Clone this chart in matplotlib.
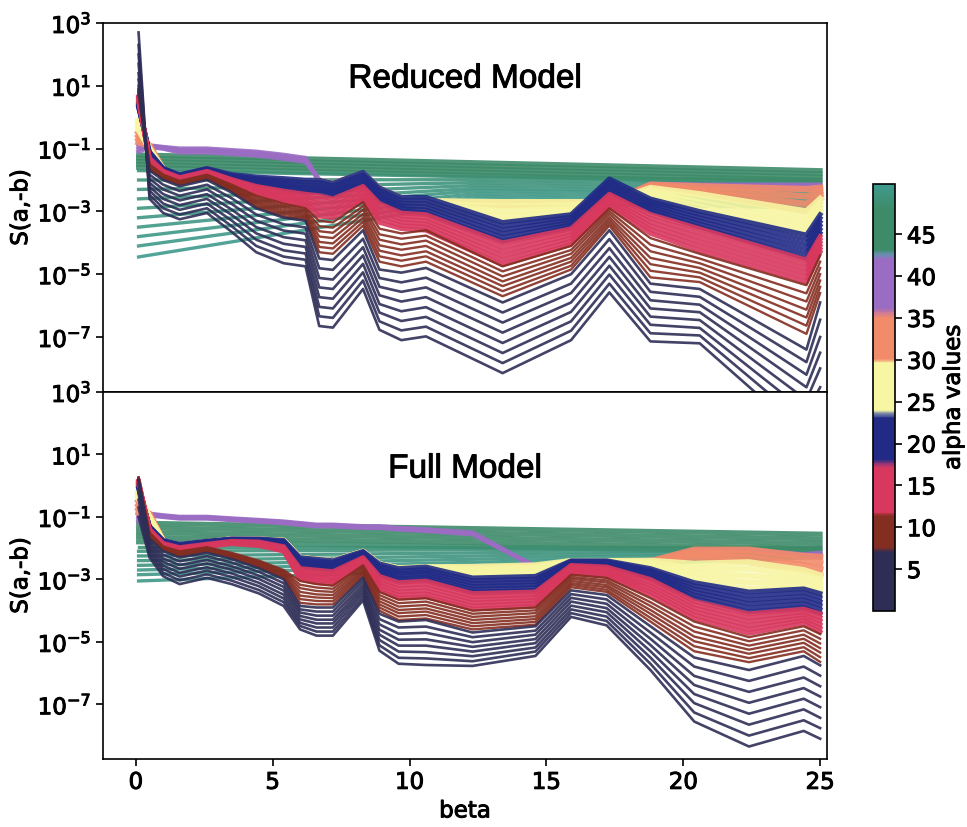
import matplotlib
matplotlib.use("Agg")
import matplotlib.pyplot as plt
import matplotlib.patheffects as pe
import numpy as np
from matplotlib.colors import LinearSegmentedColormap, Normalize
from matplotlib.cm import ScalarMappable
from matplotlib.ticker import NullLocator

# beta grids of the two models
BETA_REDUCED = [0.1, 0.5, 1.0, 1.6, 2.6, 3.5, 4.4, 5.4, 6.2, 6.7, 7.2,
                8.3, 8.9, 9.7, 10.6, 13.4, 15.9, 17.3, 18.8, 20.6, 24.5, 25.0]
BETA_FULL = [0.1, 0.5, 1.0, 1.6, 2.6, 3.5, 4.5, 5.4, 6.0, 6.6, 7.2, 8.3,
             8.9, 9.6, 10.6, 12.3, 14.6, 15.9, 17.2, 18.8, 20.4, 22.4, 24.4, 25.0]
BETA_ENDS = [0.1, 25.0]
BETA_TEAL_REDUCED = [0.1, 12.5, 25.0]

# alpha values of each group of curves
ALPHA_NAVY = [0.5, 1.3, 2.1, 2.9, 3.7, 4.5, 5.3, 6.2]
ALPHA_BROWN = [7.6, 8.2, 8.8, 9.4, 10.0, 10.6, 11.2]
ALPHA_CRIMSON = [12.0, 13.0, 14.0, 15.0, 16.0, 17.0]
ALPHA_BLUE = [18.5, 19.4, 20.3, 21.2, 22.0, 22.8]
ALPHA_YELLOW = [24.2, 25.6, 27.0, 28.4, 29.4]
ALPHA_SALMON = [30.6, 32.0, 33.4, 34.8]
ALPHA_PURPLE = [36.8, 38.4, 40.0, 41.6]
ALPHA_GREEN = [43.5, 44.8, 46.1, 47.4, 48.7]
ALPHA_TEAL_REDUCED = [49.1, 49.3, 49.5, 49.7, 49.9, 50.1, 50.3, 50.5, 50.7, 50.9]
ALPHA_TEAL_FULL = [49.2, 49.4, 49.6, 49.8, 50.0, 50.2, 50.4, 50.6]

# log10 S(a,-b); one row per beta, one column per alpha
REDUCED_NAVY = [
    [2.7, 2.3, 2.0, 1.7, 1.4, 1.2, 1.0, 0.9],
    [-2.6, -2.47, -2.34, -2.21, -2.09, -1.96, -1.83, -1.7],
    [-3.05, -2.9, -2.75, -2.6, -2.45, -2.3, -2.15, -2.0],
    [-3.25, -3.1, -2.95, -2.8, -2.65, -2.5, -2.35, -2.2],
    [-3.05, -2.9, -2.75, -2.6, -2.45, -2.3, -2.15, -2.0],
    [-3.65, -3.47, -3.29, -3.11, -2.94, -2.76, -2.58, -2.4],
    [-4.3, -4.1, -3.9, -3.7, -3.5, -3.3, -3.1, -2.9],
    [-4.65, -4.44, -4.24, -4.03, -3.82, -3.61, -3.41, -3.2],
    [-4.75, -4.54, -4.34, -4.13, -3.92, -3.71, -3.51, -3.3],
    [-6.65, -6.34, -6.04, -5.73, -5.42, -5.12, -4.81, -4.5],
    [-6.7, -6.39, -6.09, -5.78, -5.47, -5.17, -4.86, -4.55],
    [-5.47, -5.2, -4.94, -4.67, -4.4, -4.14, -3.87, -3.6],
    [-6.77, -6.5, -6.22, -5.95, -5.67, -5.4, -5.12, -4.85],
    [-7.1, -6.79, -6.49, -6.18, -5.87, -5.56, -5.26, -4.95],
    [-6.98, -6.67, -6.36, -6.05, -5.73, -5.42, -5.11, -4.8],
    [-8.15, -7.83, -7.51, -7.19, -6.86, -6.54, -6.22, -5.9],
    [-7.1, -6.8, -6.5, -6.2, -5.9, -5.6, -5.3, -5.0],
    [-5.58, -5.3, -5.01, -4.73, -4.45, -4.17, -3.88, -3.6],
    [-7.14, -6.88, -6.61, -6.35, -6.09, -5.83, -5.56, -5.3],
    [-7.2, -6.95, -6.71, -6.46, -6.21, -5.97, -5.72, -5.47],
    [-10.2, -9.8, -9.4, -9.0, -8.6, -8.2, -7.8, -7.4],
    [-9.6, -9.1, -8.6, -8.0, -7.5, -7.0, -6.45, -5.9],
]
REDUCED_BROWN = [
    [0.85, 0.83, 0.8, 0.78, 0.75, 0.73, 0.7],
    [-1.65, -1.63, -1.6, -1.58, -1.55, -1.53, -1.5],
    [-1.95, -1.93, -1.91, -1.89, -1.87, -1.85, -1.83],
    [-2.15, -2.13, -2.11, -2.09, -2.07, -2.05, -2.03],
    [-1.95, -1.93, -1.91, -1.89, -1.87, -1.85, -1.83],
    [-2.35, -2.32, -2.28, -2.25, -2.22, -2.18, -2.15],
    [-2.85, -2.79, -2.73, -2.68, -2.62, -2.56, -2.5],
    [-3.15, -3.08, -3.02, -2.95, -2.88, -2.82, -2.75],
    [-3.25, -3.19, -3.13, -3.08, -3.02, -2.96, -2.9],
    [-4.3, -4.13, -3.97, -3.8, -3.63, -3.47, -3.3],
    [-4.35, -4.18, -4.02, -3.85, -3.68, -3.52, -3.35],
    [-3.45, -3.33, -3.2, -3.08, -2.95, -2.83, -2.7],
    [-4.6, -4.43, -4.25, -4.08, -3.9, -3.73, -3.55],
    [-4.75, -4.57, -4.4, -4.22, -4.05, -3.87, -3.7],
    [-4.6, -4.43, -4.27, -4.1, -3.93, -3.77, -3.6],
    [-5.7, -5.54, -5.38, -5.23, -5.07, -4.91, -4.75],
    [-4.85, -4.73, -4.6, -4.48, -4.35, -4.23, -4.1],
    [-3.45, -3.36, -3.27, -3.18, -3.08, -2.99, -2.9],
    [-5.1, -4.89, -4.68, -4.48, -4.27, -4.06, -3.85],
    [-5.25, -5.1, -4.95, -4.8, -4.65, -4.5, -4.35],
    [-6.9, -6.64, -6.38, -6.13, -5.87, -5.61, -5.35],
    [-5.6, -5.4, -5.2, -5.0, -4.8, -4.6, -4.4],
]
REDUCED_CRIMSON = [
    [0.65, 0.62, 0.59, 0.56, 0.53, 0.5],
    [-1.45, -1.42, -1.39, -1.36, -1.33, -1.3],
    [-1.8, -1.78, -1.77, -1.75, -1.74, -1.72],
    [-2.0, -1.98, -1.97, -1.95, -1.94, -1.92],
    [-1.8, -1.78, -1.77, -1.75, -1.74, -1.72],
    [-2.12, -2.09, -2.06, -2.04, -2.01, -1.98],
    [-2.45, -2.4, -2.35, -2.3, -2.25, -2.2],
    [-2.7, -2.63, -2.56, -2.49, -2.42, -2.35],
    [-2.85, -2.77, -2.69, -2.61, -2.53, -2.45],
    [-3.15, -3.02, -2.89, -2.76, -2.63, -2.5],
    [-3.2, -3.08, -2.96, -2.84, -2.72, -2.6],
    [-2.65, -2.56, -2.47, -2.38, -2.29, -2.2],
    [-3.35, -3.23, -3.11, -2.99, -2.87, -2.75],
    [-3.55, -3.45, -3.35, -3.25, -3.15, -3.05],
    [-3.6, -3.5, -3.4, -3.3, -3.2, -3.1],
    [-4.7, -4.56, -4.42, -4.28, -4.14, -4.0],
    [-4.05, -3.95, -3.85, -3.75, -3.65, -3.55],
    [-2.85, -2.77, -2.69, -2.61, -2.53, -2.45],
    [-3.7, -3.58, -3.46, -3.34, -3.22, -3.1],
    [-4.25, -4.11, -3.97, -3.83, -3.69, -3.55],
    [-5.25, -5.11, -4.97, -4.83, -4.69, -4.55],
    [-4.3, -4.2, -4.1, -4.0, -3.9, -3.8],
]
REDUCED_BLUE = [
    [0.45, 0.42, 0.39, 0.36, 0.33, 0.3],
    [-1.25, -1.22, -1.19, -1.16, -1.13, -1.1],
    [-1.7, -1.69, -1.67, -1.66, -1.64, -1.63],
    [-1.9, -1.89, -1.87, -1.86, -1.84, -1.83],
    [-1.7, -1.69, -1.67, -1.66, -1.64, -1.63],
    [-1.95, -1.92, -1.9, -1.87, -1.85, -1.82],
    [-2.15, -2.1, -2.05, -2.0, -1.95, -1.9],
    [-2.3, -2.23, -2.16, -2.09, -2.02, -1.95],
    [-2.4, -2.32, -2.24, -2.16, -2.08, -2.0],
    [-2.4, -2.32, -2.24, -2.16, -2.08, -2.0],
    [-2.5, -2.42, -2.34, -2.26, -2.18, -2.1],
    [-2.15, -2.07, -1.99, -1.91, -1.83, -1.75],
    [-2.65, -2.57, -2.49, -2.41, -2.33, -2.25],
    [-3.0, -2.91, -2.82, -2.73, -2.64, -2.55],
    [-3.05, -2.95, -2.85, -2.75, -2.65, -2.55],
    [-3.95, -3.83, -3.71, -3.59, -3.47, -3.35],
    [-3.5, -3.42, -3.34, -3.26, -3.18, -3.1],
    [-2.4, -2.31, -2.22, -2.14, -2.05, -1.96],
    [-3.0, -2.92, -2.84, -2.76, -2.68, -2.6],
    [-3.5, -3.4, -3.3, -3.2, -3.1, -3.0],
    [-4.5, -4.35, -4.2, -4.05, -3.9, -3.75],
    [-3.7, -3.58, -3.46, -3.34, -3.22, -3.1],
]
REDUCED_YELLOW = [
    [-0.1, -0.18, -0.25, -0.33, -0.4],
    [-1.05, -1.04, -1.03, -1.01, -1.0],
    [-1.7, -1.69, -1.68, -1.68, -1.67],
    [-1.9, -1.89, -1.88, -1.88, -1.87],
    [-1.7, -1.69, -1.68, -1.68, -1.67],
    [-1.9, -1.89, -1.88, -1.87, -1.86],
    [-2.0, -1.99, -1.98, -1.97, -1.95],
    [-2.05, -2.04, -2.03, -2.01, -2.0],
    [-2.1, -2.09, -2.08, -2.06, -2.05],
    [-2.1, -2.08, -2.06, -2.04, -2.02],
    [-2.2, -2.18, -2.16, -2.14, -2.12],
    [-1.85, -1.84, -1.83, -1.82, -1.8],
    [-2.35, -2.33, -2.31, -2.29, -2.28],
    [-2.65, -2.63, -2.61, -2.6, -2.58],
    [-2.9, -2.84, -2.78, -2.72, -2.67],
    [-3.3, -3.15, -3.0, -2.85, -2.7],
    [-3.1, -3.0, -2.9, -2.8, -2.7],
    [-2.75, -2.74, -2.73, -2.72, -2.7],
    [-2.55, -2.48, -2.4, -2.33, -2.25],
    [-2.99, -2.86, -2.72, -2.59, -2.45],
    [-3.75, -3.56, -3.38, -3.19, -3.0],
    [-3.1, -2.98, -2.85, -2.73, -2.6],
]
REDUCED_SALMON = [
    [-0.5, -0.6, -0.7, -0.8],
    [-0.95, -0.93, -0.92, -0.9],
    [-1.7, -1.69, -1.68, -1.67],
    [-1.9, -1.89, -1.88, -1.87],
    [-1.7, -1.69, -1.68, -1.67],
    [-1.9, -1.89, -1.88, -1.87],
    [-2.0, -1.99, -1.98, -1.97],
    [-2.05, -2.04, -2.03, -2.02],
    [-2.1, -2.09, -2.08, -2.07],
    [-2.05, -2.04, -2.03, -2.02],
    [-2.15, -2.14, -2.13, -2.12],
    [-1.82, -1.81, -1.8, -1.8],
    [-2.3, -2.3, -2.29, -2.28],
    [-2.6, -2.6, -2.59, -2.58],
    [-2.72, -2.71, -2.7, -2.69],
    [-2.8, -2.77, -2.75, -2.72],
    [-2.8, -2.77, -2.75, -2.72],
    [-2.75, -2.74, -2.73, -2.72],
    [-2.25, -2.21, -2.18, -2.15],
    [-2.45, -2.37, -2.29, -2.2],
    [-2.99, -2.76, -2.52, -2.29],
    [-2.6, -2.48, -2.37, -2.25],
]
REDUCED_PURPLE = [
    [-0.85, -0.93, -1.02, -1.1],
    [-0.9, -0.92, -0.93, -0.95],
    [-0.95, -0.97, -0.98, -1.0],
    [-1.0, -1.04, -1.08, -1.12],
    [-1.0, -1.04, -1.08, -1.12],
    [-1.05, -1.09, -1.13, -1.17],
    [-1.1, -1.14, -1.18, -1.22],
    [-1.2, -1.24, -1.28, -1.32],
    [-1.3, -1.34, -1.38, -1.42],
    [-2.02, -2.02, -2.01, -2.01],
    [-2.12, -2.12, -2.11, -2.11],
    [-1.8, -1.8, -1.79, -1.79],
    [-2.28, -2.28, -2.27, -2.27],
    [-2.58, -2.58, -2.57, -2.57],
    [-2.69, -2.69, -2.68, -2.68],
    [-2.72, -2.72, -2.71, -2.71],
    [-2.72, -2.72, -2.71, -2.71],
    [-2.75, -2.74, -2.73, -2.72],
    [-2.15, -2.14, -2.13, -2.12],
    [-2.2, -2.19, -2.17, -2.15],
    [-2.29, -2.24, -2.2, -2.15],
    [-2.25, -2.22, -2.18, -2.15],
]
REDUCED_GREEN = [
    [-1.2, -1.3, -1.4, -1.5, -1.6],
    [-1.7, -1.8, -1.9, -2.0, -2.1],
]
REDUCED_TEAL = [
    [-1.7, -2.0, -2.3, -2.6, -2.9, -3.2, -3.5, -3.8, -4.1, -4.45],
    [-1.9, -1.99, -2.08, -2.17, -2.26, -2.34, -2.43, -2.52, -2.61, -2.7],
    [-2.0, -2.1, -2.2, -2.3, -2.4, -2.5, -2.6, -2.7, -2.8, -2.9],
]

FULL_NAVY = [
    [-1.0, -0.7, -0.45, -0.25, -0.1, 0.05, 0.15, 0.2],
    [-2.3, -2.21, -2.13, -2.04, -1.96, -1.87, -1.79, -1.7],
    [-2.9, -2.79, -2.67, -2.56, -2.44, -2.33, -2.21, -2.1],
    [-3.15, -3.03, -2.91, -2.79, -2.66, -2.54, -2.42, -2.3],
    [-2.95, -2.84, -2.72, -2.61, -2.49, -2.38, -2.26, -2.15],
    [-3.15, -3.04, -2.92, -2.81, -2.69, -2.58, -2.46, -2.35],
    [-3.45, -3.34, -3.22, -3.11, -2.99, -2.88, -2.76, -2.65],
    [-3.85, -3.73, -3.61, -3.49, -3.36, -3.24, -3.12, -3.0],
    [-4.6, -4.49, -4.39, -4.28, -4.17, -4.06, -3.96, -3.85],
    [-4.8, -4.67, -4.54, -4.41, -4.29, -4.16, -4.03, -3.9],
    [-4.8, -4.67, -4.54, -4.41, -4.29, -4.16, -4.03, -3.9],
    [-3.67, -3.57, -3.46, -3.36, -3.26, -3.16, -3.05, -2.95],
    [-5.28, -5.11, -4.94, -4.77, -4.61, -4.44, -4.27, -4.1],
    [-5.7, -5.51, -5.31, -5.12, -4.93, -4.74, -4.54, -4.35],
    [-5.74, -5.53, -5.33, -5.12, -4.92, -4.71, -4.51, -4.3],
    [-5.77, -5.62, -5.46, -5.31, -5.16, -5.01, -4.85, -4.7],
    [-5.45, -5.31, -5.18, -5.04, -4.91, -4.77, -4.64, -4.5],
    [-4.2, -4.08, -3.96, -3.84, -3.71, -3.59, -3.47, -3.35],
    [-4.47, -4.33, -4.19, -4.05, -3.92, -3.78, -3.64, -3.5],
    [-5.9, -5.7, -5.5, -5.3, -5.1, -4.9, -4.7, -4.5],
    [-7.55, -7.26, -6.96, -6.67, -6.38, -6.09, -5.79, -5.5],
    [-8.35, -8.0, -7.65, -7.3, -6.95, -6.6, -6.25, -5.9],
    [-7.85, -7.51, -7.16, -6.82, -6.48, -6.14, -5.79, -5.45],
    [-8.1, -7.76, -7.43, -7.09, -6.75, -6.42, -6.08, -5.75],
]
FULL_BROWN = [
    [0.27, 0.26, 0.25, 0.24, 0.23, 0.22, 0.2],
    [-1.65, -1.63, -1.6, -1.58, -1.55, -1.53, -1.5],
    [-2.05, -2.03, -2.02, -2.0, -1.98, -1.97, -1.95],
    [-2.25, -2.23, -2.2, -2.18, -2.15, -2.13, -2.1],
    [-2.1, -2.08, -2.06, -2.04, -2.01, -1.99, -1.97],
    [-2.3, -2.28, -2.25, -2.23, -2.2, -2.18, -2.15],
    [-2.6, -2.57, -2.53, -2.5, -2.47, -2.43, -2.4],
    [-2.95, -2.91, -2.87, -2.83, -2.78, -2.74, -2.7],
    [-3.75, -3.63, -3.52, -3.4, -3.28, -3.17, -3.05],
    [-3.8, -3.69, -3.58, -3.48, -3.37, -3.26, -3.15],
    [-3.8, -3.7, -3.6, -3.5, -3.4, -3.3, -3.2],
    [-2.9, -2.84, -2.78, -2.73, -2.67, -2.61, -2.55],
    [-4.0, -3.9, -3.8, -3.7, -3.6, -3.5, -3.4],
    [-4.3, -4.19, -4.08, -3.98, -3.87, -3.76, -3.65],
    [-4.25, -4.14, -4.03, -3.93, -3.82, -3.71, -3.6],
    [-4.6, -4.5, -4.4, -4.3, -4.2, -4.1, -4.0],
    [-4.45, -4.36, -4.27, -4.18, -4.08, -3.99, -3.9],
    [-3.25, -3.18, -3.12, -3.05, -2.98, -2.92, -2.85],
    [-3.4, -3.33, -3.25, -3.18, -3.1, -3.03, -2.95],
    [-4.35, -4.23, -4.1, -3.98, -3.85, -3.73, -3.6],
    [-5.3, -5.14, -4.98, -4.83, -4.67, -4.51, -4.35],
    [-5.65, -5.52, -5.38, -5.25, -5.12, -4.98, -4.85],
    [-5.3, -5.17, -5.03, -4.9, -4.77, -4.63, -4.5],
    [-5.64, -5.49, -5.34, -5.2, -5.05, -4.9, -4.75],
]
FULL_CRIMSON = [
    [0.15, 0.13, 0.11, 0.09, 0.07, 0.05],
    [-1.47, -1.46, -1.44, -1.43, -1.41, -1.4],
    [-1.92, -1.91, -1.89, -1.88, -1.86, -1.85],
    [-2.07, -2.05, -2.03, -2.02, -2.0, -1.98],
    [-1.95, -1.93, -1.92, -1.9, -1.89, -1.87],
    [-1.86, -1.84, -1.83, -1.81, -1.8, -1.78],
    [-1.92, -1.9, -1.87, -1.85, -1.82, -1.8],
    [-2.1, -2.07, -2.04, -2.01, -1.98, -1.95],
    [-3.0, -2.93, -2.86, -2.79, -2.72, -2.65],
    [-3.1, -3.02, -2.94, -2.86, -2.78, -2.7],
    [-3.15, -3.07, -2.99, -2.91, -2.83, -2.75],
    [-2.5, -2.46, -2.42, -2.38, -2.34, -2.3],
    [-3.35, -3.26, -3.17, -3.08, -2.99, -2.9],
    [-3.6, -3.5, -3.4, -3.3, -3.2, -3.1],
    [-3.56, -3.46, -3.36, -3.25, -3.15, -3.05],
    [-3.95, -3.85, -3.75, -3.65, -3.55, -3.45],
    [-3.85, -3.76, -3.67, -3.58, -3.49, -3.4],
    [-2.8, -2.75, -2.7, -2.65, -2.6, -2.55],
    [-2.9, -2.84, -2.78, -2.72, -2.66, -2.6],
    [-3.5, -3.4, -3.3, -3.2, -3.1, -3.0],
    [-4.25, -4.14, -4.03, -3.92, -3.81, -3.7],
    [-4.73, -4.6, -4.48, -4.35, -4.23, -4.1],
    [-4.4, -4.31, -4.22, -4.13, -4.04, -3.95],
    [-4.68, -4.56, -4.45, -4.33, -4.22, -4.1],
]
FULL_BLUE = [
    [0.05, 0.02, -0.01, -0.04, -0.07, -0.1],
    [-1.38, -1.36, -1.35, -1.33, -1.32, -1.3],
    [-1.83, -1.81, -1.8, -1.78, -1.77, -1.75],
    [-1.95, -1.93, -1.92, -1.9, -1.89, -1.87],
    [-1.85, -1.83, -1.82, -1.8, -1.79, -1.77],
    [-1.76, -1.75, -1.74, -1.72, -1.71, -1.7],
    [-1.78, -1.76, -1.75, -1.73, -1.72, -1.7],
    [-1.9, -1.87, -1.84, -1.81, -1.78, -1.75],
    [-2.6, -2.54, -2.48, -2.42, -2.36, -2.3],
    [-2.65, -2.59, -2.53, -2.47, -2.41, -2.35],
    [-2.7, -2.64, -2.58, -2.52, -2.46, -2.4],
    [-2.25, -2.22, -2.19, -2.16, -2.13, -2.1],
    [-2.85, -2.78, -2.71, -2.64, -2.57, -2.5],
    [-3.05, -2.97, -2.89, -2.81, -2.73, -2.65],
    [-3.0, -2.92, -2.84, -2.76, -2.68, -2.6],
    [-3.4, -3.31, -3.22, -3.13, -3.04, -2.95],
    [-3.35, -3.26, -3.17, -3.08, -2.99, -2.9],
    [-2.5, -2.48, -2.46, -2.44, -2.42, -2.4],
    [-2.55, -2.52, -2.49, -2.46, -2.43, -2.4],
    [-2.95, -2.89, -2.83, -2.77, -2.71, -2.65],
    [-3.6, -3.5, -3.4, -3.3, -3.2, -3.1],
    [-4.04, -3.91, -3.78, -3.66, -3.53, -3.4],
    [-3.9, -3.78, -3.66, -3.54, -3.42, -3.3],
    [-4.09, -3.96, -3.83, -3.71, -3.58, -3.45],
]
FULL_YELLOW = [
    [-0.2, -0.25, -0.3, -0.35, -0.4],
    [-1.05, -1.04, -1.03, -1.01, -1.0],
    [-1.8, -1.8, -1.79, -1.79, -1.78],
    [-1.92, -1.92, -1.91, -1.91, -1.9],
    [-1.82, -1.82, -1.81, -1.81, -1.8],
    [-1.73, -1.73, -1.72, -1.72, -1.72],
    [-1.74, -1.74, -1.73, -1.73, -1.72],
    [-1.78, -1.78, -1.77, -1.77, -1.76],
    [-2.33, -2.33, -2.32, -2.32, -2.31],
    [-2.38, -2.38, -2.37, -2.37, -2.36],
    [-2.43, -2.43, -2.42, -2.42, -2.41],
    [-2.13, -2.13, -2.12, -2.12, -2.11],
    [-2.53, -2.53, -2.52, -2.52, -2.51],
    [-2.68, -2.67, -2.66, -2.65, -2.64],
    [-2.65, -2.64, -2.63, -2.62, -2.61],
    [-2.9, -2.82, -2.75, -2.67, -2.6],
    [-2.87, -2.79, -2.71, -2.63, -2.55],
    [-2.45, -2.44, -2.43, -2.42, -2.41],
    [-2.45, -2.44, -2.43, -2.42, -2.41],
    [-2.65, -2.59, -2.53, -2.46, -2.4],
    [-3.1, -2.95, -2.8, -2.65, -2.5],
    [-3.3, -3.09, -2.88, -2.66, -2.45],
    [-3.3, -3.15, -3.0, -2.85, -2.7],
    [-3.45, -3.3, -3.15, -3.0, -2.87],
]
FULL_SALMON = [
    [-0.5, -0.62, -0.73, -0.85],
    [-0.95, -0.93, -0.92, -0.9],
    [-1.8, -1.8, -1.79, -1.79],
    [-1.92, -1.92, -1.91, -1.91],
    [-1.82, -1.82, -1.81, -1.81],
    [-1.73, -1.73, -1.72, -1.72],
    [-1.74, -1.74, -1.73, -1.73],
    [-1.78, -1.78, -1.77, -1.77],
    [-2.33, -2.33, -2.32, -2.32],
    [-2.38, -2.38, -2.37, -2.37],
    [-2.43, -2.43, -2.42, -2.42],
    [-2.13, -2.13, -2.12, -2.12],
    [-2.53, -2.53, -2.52, -2.52],
    [-2.68, -2.68, -2.67, -2.67],
    [-2.65, -2.65, -2.64, -2.64],
    [-2.65, -2.65, -2.64, -2.63],
    [-2.6, -2.6, -2.59, -2.58],
    [-2.45, -2.45, -2.44, -2.44],
    [-2.45, -2.45, -2.44, -2.44],
    [-2.45, -2.44, -2.43, -2.42],
    [-2.3, -2.22, -2.13, -2.05],
    [-2.44, -2.31, -2.18, -2.05],
    [-2.7, -2.55, -2.4, -2.25],
    [-2.87, -2.67, -2.48, -2.28],
]
FULL_PURPLE = [
    [-0.95, -1.02, -1.08, -1.15],
    [-0.9, -0.92, -0.93, -0.95],
    [-0.95, -0.97, -0.98, -1.0],
    [-1.0, -1.02, -1.03, -1.05],
    [-1.0, -1.02, -1.03, -1.05],
    [-1.05, -1.07, -1.08, -1.1],
    [-1.1, -1.12, -1.13, -1.15],
    [-1.15, -1.17, -1.18, -1.2],
    [-1.2, -1.22, -1.23, -1.25],
    [-1.25, -1.27, -1.28, -1.3],
    [-1.25, -1.27, -1.28, -1.3],
    [-1.3, -1.32, -1.33, -1.35],
    [-1.3, -1.32, -1.33, -1.35],
    [-1.35, -1.37, -1.38, -1.4],
    [-1.4, -1.42, -1.43, -1.45],
    [-1.5, -1.52, -1.53, -1.55],
    [-2.6, -2.6, -2.59, -2.59],
    [-2.46, -2.46, -2.45, -2.45],
    [-2.46, -2.46, -2.45, -2.45],
    [-2.46, -2.45, -2.44, -2.43],
    [-2.07, -2.07, -2.06, -2.06],
    [-2.07, -2.07, -2.06, -2.06],
    [-2.27, -2.25, -2.22, -2.2],
    [-2.3, -2.25, -2.2, -2.15],
]
FULL_GREEN = [
    [-1.2, -1.35, -1.5, -1.65, -1.8],
    [-1.55, -1.7, -1.85, -2.0, -2.12],
]
FULL_TEAL = [
    [-1.95, -2.1, -2.25, -2.4, -2.55, -2.7, -2.85, -3.05],
    [-1.95, -2.0, -2.05, -2.1, -2.15, -2.2, -2.25, -2.3],
]

Y_TICKS = [1e3, 1e1, 1e-1, 1e-3, 1e-5, 1e-7]
X_TICKS = [0, 5, 10, 15, 20, 25]
CBAR_TICKS = [5, 10, 15, 20, 25, 30, 35, 40, 45]

# stepped colour map for alpha
cmap_nodes = [
    (0.0, "#2e2d56"), (7.0, "#2e2d56"), (7.5, "#842d21"), (11.3, "#842d21"),
    (11.8, "#d8385e"), (17.1, "#d8385e"), (17.6, "#8c3578"), (18.1, "#212b86"),
    (23.0, "#212b86"), (23.5, "#6f7da6"), (24.0, "#f7f6a3"), (29.6, "#f7f6a3"),
    (30.1, "#f28b6a"), (35.0, "#f28b6a"), (35.6, "#cf7b93"), (36.2, "#9b6cc3"),
    (42.0, "#9b6cc3"), (42.6, "#6a8db0"), (43.2, "#3e8b69"), (48.0, "#3e8b69"),
    (51.0, "#3f9a8e"),
]
VMIN, VMAX = 0.0, 51.0
cmap = LinearSegmentedColormap.from_list(
    "alpha_bands", [((v - VMIN) / (VMAX - VMIN), c) for v, c in cmap_nodes], N=512)
norm = Normalize(VMIN, VMAX)

plt.rcParams["font.family"] = "DejaVu Sans"
plt.rcParams["font.size"] = 16
bold_edge = [pe.withStroke(linewidth=0.7, foreground="black")]


def draw_model(ax, betas, groups):
    # high alpha first, so the low-alpha curves end up on top
    curves = []
    for betas_g, table, alphas, lw in groups:
        x = betas if betas_g is None else betas_g
        for alpha, row in zip(alphas, np.array(table).T):
            curves.append((alpha, x, row, lw))
    for alpha, x, row, lw in sorted(curves, key=lambda c: -c[0]):
        ax.plot(x, 10.0 ** row, color=cmap(norm(alpha)), lw=lw, alpha=0.9)


fig = plt.figure(figsize=(9.67, 8.28), dpi=100)
ax_top = fig.add_axes([0.1065, 0.5254, 0.7487, 0.4456])
ax_bot = fig.add_axes([0.1065, 0.0821, 0.7487, 0.4433], sharex=ax_top, sharey=ax_top)
cax = fig.add_axes([0.9028, 0.2609, 0.0228, 0.5157])

draw_model(ax_top, BETA_REDUCED, [
    (None, REDUCED_NAVY, ALPHA_NAVY, 1.9),
    (None, REDUCED_BROWN, ALPHA_BROWN, 1.7),
    (None, REDUCED_CRIMSON, ALPHA_CRIMSON, 3.4),
    (None, REDUCED_BLUE, ALPHA_BLUE, 3.4),
    (None, REDUCED_YELLOW, ALPHA_YELLOW, 4.4),
    (None, REDUCED_SALMON, ALPHA_SALMON, 4.6),
    (None, REDUCED_PURPLE, ALPHA_PURPLE, 3.2),
    (BETA_ENDS, REDUCED_GREEN, ALPHA_GREEN, 3.6),
    (BETA_TEAL_REDUCED, REDUCED_TEAL, ALPHA_TEAL_REDUCED, 2.4),
])
draw_model(ax_bot, BETA_FULL, [
    (None, FULL_NAVY, ALPHA_NAVY, 1.9),
    (None, FULL_BROWN, ALPHA_BROWN, 1.7),
    (None, FULL_CRIMSON, ALPHA_CRIMSON, 3.4),
    (None, FULL_BLUE, ALPHA_BLUE, 3.4),
    (None, FULL_YELLOW, ALPHA_YELLOW, 4.4),
    (None, FULL_SALMON, ALPHA_SALMON, 4.6),
    (None, FULL_PURPLE, ALPHA_PURPLE, 3.2),
    (BETA_ENDS, FULL_GREEN, ALPHA_GREEN, 3.6),
    (BETA_ENDS, FULL_TEAL, ALPHA_TEAL_FULL, 2.4),
])

for ax, title, ty in [(ax_top, "Reduced Model", 0.848), (ax_bot, "Full Model", 0.79)]:
    ax.set_yscale("log")
    ax.set_ylim(10 ** -8.75, 1e3)
    ax.set_xlim(-1.2, 25.25)
    ax.set_yticks(Y_TICKS)
    ax.yaxis.set_minor_locator(NullLocator())
    ax.set_ylabel("S(a,-b)", fontsize=16.5, path_effects=bold_edge)
    ax.text(0.5, ty, title, transform=ax.transAxes, ha="center", va="center",
            fontsize=24, family="Liberation Sans", path_effects=bold_edge)
    ax.tick_params(length=5, width=1.2, labelsize=16.5)
    for lab in ax.get_yticklabels():
        lab.set_path_effects(bold_edge)
    for sp in ax.spines.values():
        sp.set_linewidth(1.2)

ax_bot.set_xticks(X_TICKS)
for lab in ax_bot.get_xticklabels():
    lab.set_path_effects(bold_edge)
ax_top.tick_params(axis="x", labelbottom=False, length=0)
ax_bot.set_xlabel("beta", fontsize=16.5, path_effects=bold_edge)

sm = ScalarMappable(norm=norm, cmap=cmap)
cb = fig.colorbar(sm, cax=cax, ticks=CBAR_TICKS)
cb.set_label("alpha values", fontsize=16.5, path_effects=bold_edge)
cb.ax.tick_params(labelsize=16.5, length=5, width=1.2)
for lab in cb.ax.get_yticklabels():
    lab.set_path_effects(bold_edge)
cb.outline.set_linewidth(1.2)

fig.savefig("out.png", dpi=100)
